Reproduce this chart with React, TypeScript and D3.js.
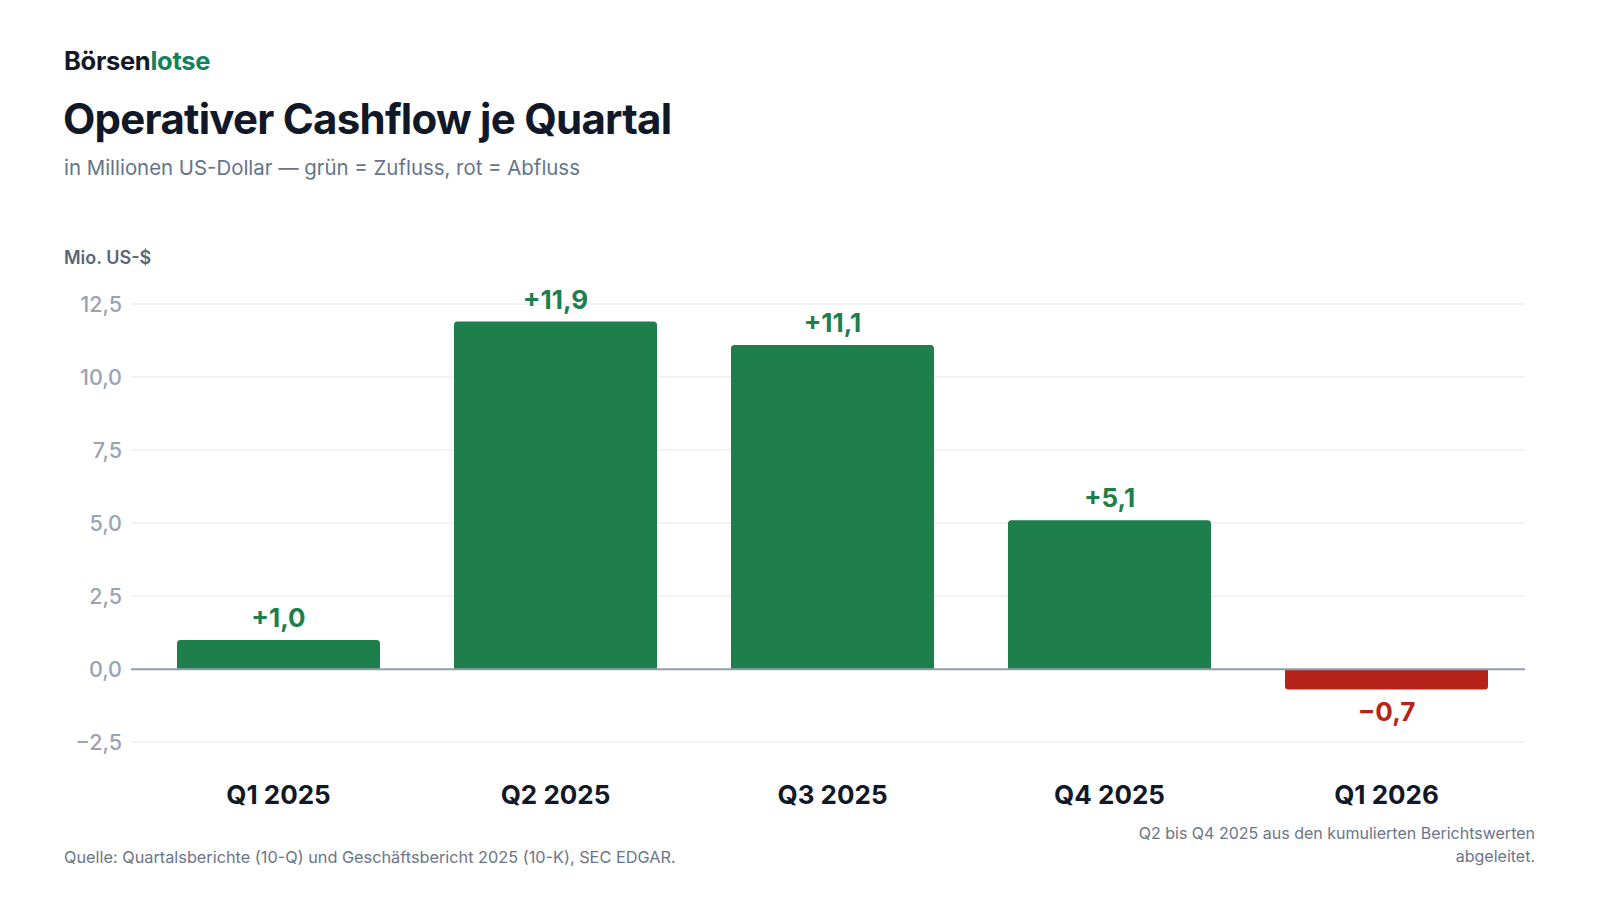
import * as d3 from 'd3';

const quarters = ['Q1 2025', 'Q2 2025', 'Q3 2025', 'Q4 2025', 'Q1 2026'];
const cashflow = [1.0, 11.9, 11.1, 5.1, -0.7];
const yTicks = [-2.5, 0, 2.5, 5, 7.5, 10, 12.5];

const W = 1600;
const H = 900;
const font = 'Inter, "Noto Sans", sans-serif';
const green = '#1e7f4d';
const red = '#b5231b';

const fmt = (v: number) => v.toFixed(1).replace('.', ',').replace('-', '\u2212');
const fmtSigned = (v: number) => (v > 0 ? '+' : '') + fmt(v);

// Balken mit abgerundeten Ecken nur an der freien Seite
function barPath(x: number, w: number, y0: number, y1: number, r: number) {
  const top = Math.min(y0, y1);
  const bottom = Math.max(y0, y1);
  const h = bottom - top;
  const rr = Math.min(r, h / 2, w / 2);
  if (y1 < y0) {
    return `M${x},${bottom}V${top + rr}Q${x},${top} ${x + rr},${top}H${x + w - rr}Q${x + w},${top} ${x + w},${top + rr}V${bottom}Z`;
  }
  return `M${x},${top}V${bottom - rr}Q${x},${bottom} ${x + rr},${bottom}H${x + w - rr}Q${x + w},${bottom} ${x + w},${bottom - rr}V${top}Z`;
}

export default function App() {
  const x = d3.scaleBand<string>()
    .domain(quarters)
    .range([140, 1525])
    .paddingInner(0.267)
    .paddingOuter(0.1335);

  const y = d3.scaleLinear()
    .domain([-2.5, 12.5])
    .range([742.2, 304]);

  const gridLeft = 131;
  const gridRight = 1525;

  return (
    <div style={{ position: 'fixed', left: 0, top: 0, width: W, height: H, background: '#fff' }}>
      <svg width={W} height={H} viewBox={`0 0 ${W} ${H}`} style={{ display: 'block', fontFamily: font }}>
        <rect width={W} height={H} fill="#fff" />

        {/* Kopfbereich */}
        <text x={64} y={70} fontSize={25.5} fontWeight={700} letterSpacing={-0.3}>
          <tspan fill="#111827">Börsen</tspan>
          <tspan fill="#13825a">lotse</tspan>
        </text>
        <text x={63} y={134} fontSize={42} fontWeight={700} fill="#111827" letterSpacing={-0.75}>
          Operativer Cashflow je Quartal
        </text>
        <text x={64} y={175} fontSize={20.4} fill="#64748b">
          in Millionen US-Dollar — grün = Zufluss, rot = Abfluss
        </text>

        <text x={64} y={264} fontSize={18} fontWeight={600} fill="#5b6577">Mio. US-$</text>

        {/* Gitterlinien und Achsenbeschriftung */}
        {yTicks.map(t => (
          <g key={t}>
            {t !== 0 && (
              <line x1={gridLeft} x2={gridRight} y1={y(t)} y2={y(t)} stroke="#edf0f4" strokeWidth={1.5} />
            )}
            <text x={122} y={y(t)} dy="0.35em" textAnchor="end" fontSize={21.5} fontWeight={500} fill="#9aa3b4">
              {fmt(t)}
            </text>
          </g>
        ))}

        {/* Balken */}
        {quarters.map((q, i) => {
          const v = cashflow[i];
          const bx = x(q)!;
          const bw = x.bandwidth();
          const y0 = y(0);
          const y1 = y(v);
          const c = v >= 0 ? green : red;
          return (
            <g key={q}>
              <path d={barPath(bx, bw, y0, y1, 3.5)} fill={c} />
              <text
                x={bx + bw / 2}
                y={v >= 0 ? y1 - 13 : y1 + 31}
                textAnchor="middle"
                fontSize={26}
                fontWeight={700}
                fill={c}
              >
                {fmtSigned(v)}
              </text>
              <text x={bx + bw / 2} y={804} textAnchor="middle" fontSize={26} fontWeight={700} fill="#111827">
                {q}
              </text>
            </g>
          );
        })}

        <line x1={gridLeft} x2={gridRight} y1={y(0)} y2={y(0)} stroke="#959dab" strokeWidth={2} />

        {/* Fußzeile */}
        <text x={64} y={863} fontSize={16.3} fill="#6b7588">
          Quelle: Quartalsberichte (10-Q) und Geschäftsbericht 2025 (10-K), SEC EDGAR.
        </text>
        <text x={1535} y={839} textAnchor="end" fontSize={16} fill="#6b7588">
          Q2 bis Q4 2025 aus den kumulierten Berichtswerten
        </text>
        <text x={1535} y={862} textAnchor="end" fontSize={16} fill="#6b7588">
          abgeleitet.
        </text>
      </svg>
    </div>
  );
}
